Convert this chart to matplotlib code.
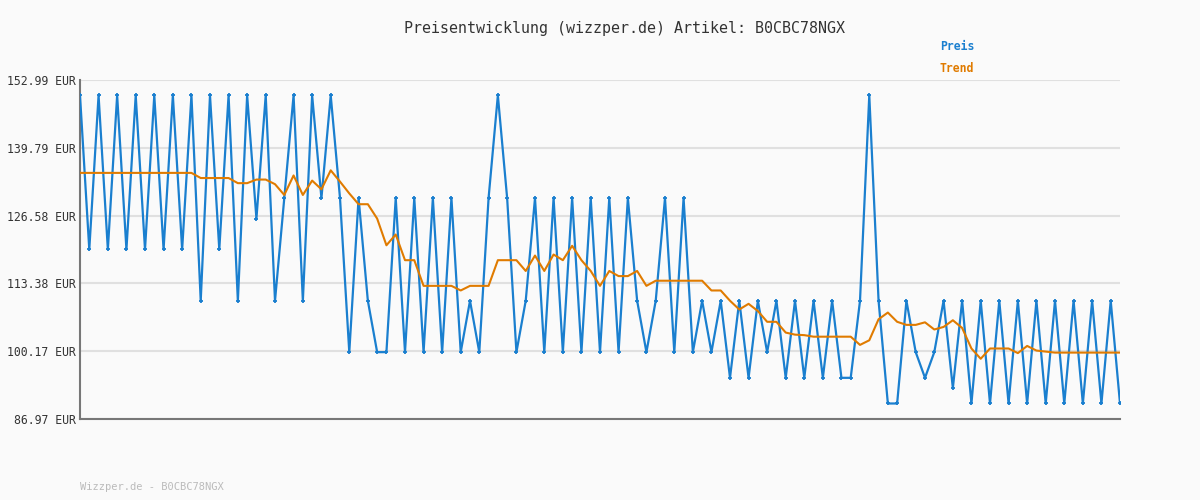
import numpy as np
import matplotlib
matplotlib.use("Agg")
import matplotlib.pyplot as plt

# price series
preis = [150,120,150,120,150,120,150,120,150,120,150,120,150,110,150,120,150,110,150,126,
         150,110,130,150,110,150,130,150,130,100,130,110,100,100,130,100,130,100,130,100,
         130,100,110,100,130,150,130,100,110,130,100,130,100,130,100,130,100,130,100,130,
         110,100,110,130,100,130,100,110,100,110,95,110,95,110,100,110,95,110,95,110,
         95,110,95,95,110,150,110,90,90,110,100,95,100,110,93,110,90,110,90,110,
         90,110,90,110,90,110,90,110,90,110,90,110,90]
preis = [p - 0.01 for p in preis]
trend = [134.9]*13 + [133.9]*4 + [132.9,132.9,133.6,133.6,132.7,130.6,134.4,130.6,133.4,131.7,
         135.4,133.2,130.9,128.8,128.8,126.0,120.8,122.9,117.9,117.9,112.9,112.9,112.9,112.9,
         112.0,112.9,112.9,112.9,117.9,117.9,117.9,115.8,118.8,115.8,119.0,117.9,120.7,117.9,
         115.8,112.9,115.8,114.8,114.8,115.8,112.9,113.9,113.9,113.9,113.9,113.9,113.9,112.0,
         112.0,110.0,108.3,109.4,108.0,105.9,105.9,103.8,103.4,103.3,103.0,103.0,103.0,103.0,
         103.0,101.4,102.3,106.4,107.7,105.9,105.3,105.3,105.8,104.4,104.9,106.2,104.7,100.7,
         98.7,100.7,100.7,100.7,99.8,101.2,100.3,100.1] + [99.9]*8
yticks = [86.97, 100.17, 113.38, 126.58, 139.79, 152.99]
ticklabels = ["{0:.2f} EUR".format(v) for v in yticks]

blue = "#1a7fcf"
orange = "#e07b00"
plt.rcParams['font.family'] = ['DejaVu Sans Mono']

fig = plt.figure(figsize=(12, 5), dpi=100, facecolor="#fafafa")
ax = fig.add_axes([80/1200, 1-419/500, 1040/1200, 339/500], facecolor="#fafafa")
x = np.arange(len(preis))
ax.plot(x, preis, color=blue, lw=1.6, marker="+", ms=3.5, mew=1.3, zorder=3)
ax.plot(np.arange(len(trend)), trend, color=orange, lw=1.5, zorder=4)
ax.set_xlim(0, len(preis)-1)
ax.set_ylim(86.97, 152.99)
ax.set_yticks(yticks)
ax.set_yticklabels(ticklabels, fontsize=8.3, color="#333333")
ax.set_xticks([])
ax.tick_params(axis="y", length=0, pad=3)
ax.yaxis.grid(True, color="#e0e0e0", lw=1.5)
ax.set_axisbelow(True)
for s in ["top", "right"]:
    ax.spines[s].set_visible(False)
ax.spines["left"].set_color("#777777")
ax.spines["bottom"].set_color("#777777")
ax.spines["left"].set_linewidth(1.5)
ax.spines["bottom"].set_linewidth(1.5)

fig.text(0.52, 1-28/500, "Preisentwicklung (wizzper.de) Artikel: B0CBC78NGX",
         ha="center", va="center", fontsize=10.8, color="#333333")
fig.text(940/1200, 1-47/500, "Preis", color=blue, fontsize=8.3, fontweight="bold", va="center")
fig.text(940/1200, 1-68/500, "Trend", color=orange, fontsize=8.3, fontweight="bold", va="center")
fig.text(80/1200, 1-487/500, "Wizzper.de - B0CBC78NGX", color="#bbbbbb", fontsize=7.5, va="center")

fig.savefig("out.png", dpi=100, facecolor=fig.get_facecolor())
